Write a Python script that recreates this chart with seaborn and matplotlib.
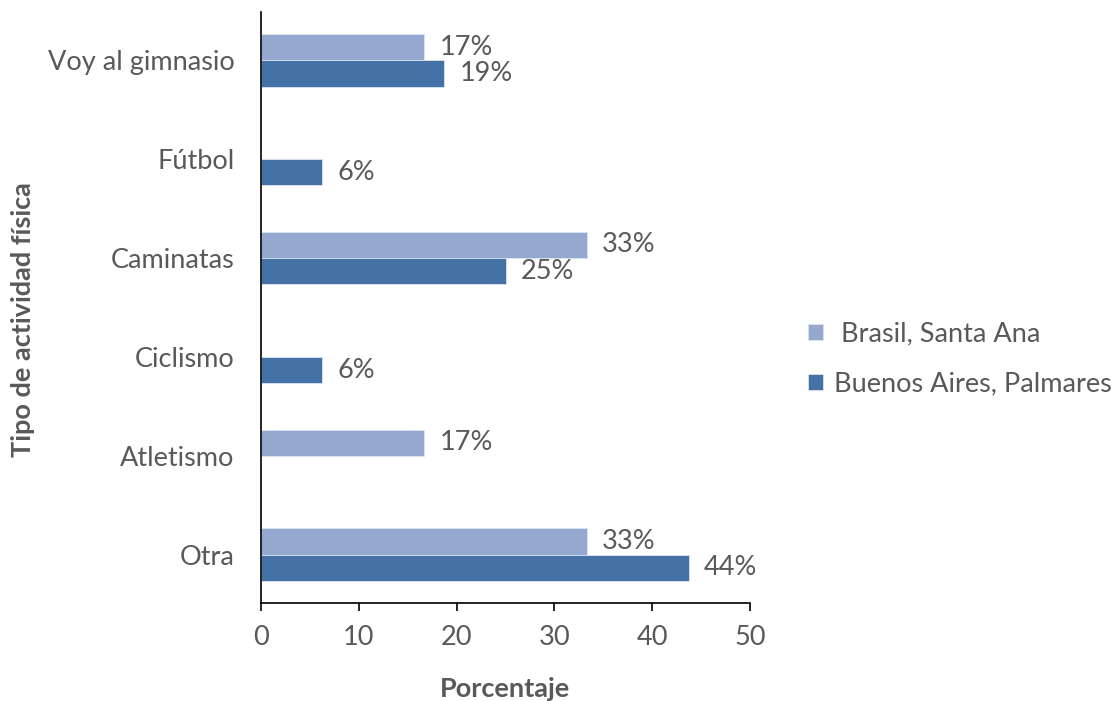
import numpy as np
import pandas as pd
import matplotlib
matplotlib.use("Agg")
import matplotlib.pyplot as plt
import seaborn as sns

categories = ["Voy al gimnasio", "Fútbol", "Caminatas", "Ciclismo", "Atletismo", "Otra"]
series_names = ["Brasil, Santa Ana", "Buenos Aires, Palmares"]
brasil = [16.7, np.nan, 33.3, np.nan, 16.7, 33.3]
buenos_aires = [18.75, 6.25, 25.0, 6.25, np.nan, 43.75]
xticks = [0, 10, 20, 30, 40, 50]

rows = []
for c, v in zip(categories, brasil):
    rows.append({"cat": c, "serie": series_names[0], "val": v})
for c, v in zip(categories, buenos_aires):
    rows.append({"cat": c, "serie": series_names[1], "val": v})
df = pd.DataFrame(rows)

sns.set_theme(style="white")
plt.rcParams["font.family"] = ["Lato", "DejaVu Sans"]
txt = "#595959"
fs = 19.5

fig = plt.figure(figsize=(11.13, 7.01), dpi=100)
ax = fig.add_axes([261/1113, 1 - 603/701, (750-261)/1113, (603-12)/701])

palette = {series_names[0]: "#95A9D0", series_names[1]: "#4472A6"}
sns.barplot(data=df, y="cat", x="val", hue="serie", order=categories,
            hue_order=series_names, palette=palette, orient="h",
            width=0.53, ax=ax, edgecolor="#dce4f0", linewidth=0.6, saturation=1)

for cont in ax.containers:
    labels = []
    for b in cont:
        w = b.get_width()
        labels.append("" if (w is None or np.isnan(w)) else f"{w:.0f}%")
    ax.bar_label(cont, labels=labels, padding=11, fontsize=fs, color=txt)

ax.set_xlim(0, 50)
ax.set_ylim(5.49, -0.49)
ax.set_xticks(xticks)
ax.set_xticklabels([str(t) for t in xticks], fontsize=fs, color=txt)
ax.tick_params(axis="y", labelsize=fs, labelcolor=txt, length=0, pad=19)
ax.tick_params(axis="x", length=6, width=1.2, color="black", direction="out", bottom=True, pad=10)
for s in ["top", "right"]:
    ax.spines[s].set_visible(False)
for s in ["left", "bottom"]:
    ax.spines[s].set_color("black")
    ax.spines[s].set_linewidth(1.2)
ax.set_xlabel("Porcentaje", fontsize=fs, fontweight="bold", color=txt)
ax.set_ylabel("Tipo de actividad física", fontsize=fs, fontweight="bold", color=txt)
ax.xaxis.set_label_coords(0.5, -0.125)
ax.yaxis.set_label_coords(-0.462, 0.479)

handles, _ = ax.get_legend_handles_labels()
ax.legend(handles, [" " + series_names[0], series_names[1]],
          loc="center left", bbox_to_anchor=(1.119, 0.413), frameon=False,
          fontsize=fs, labelcolor=txt, handlelength=0.55, handleheight=0.55,
          labelspacing=0.92, handletextpad=0.4, borderaxespad=0, borderpad=0)

fig.savefig("out.png", dpi=100)
